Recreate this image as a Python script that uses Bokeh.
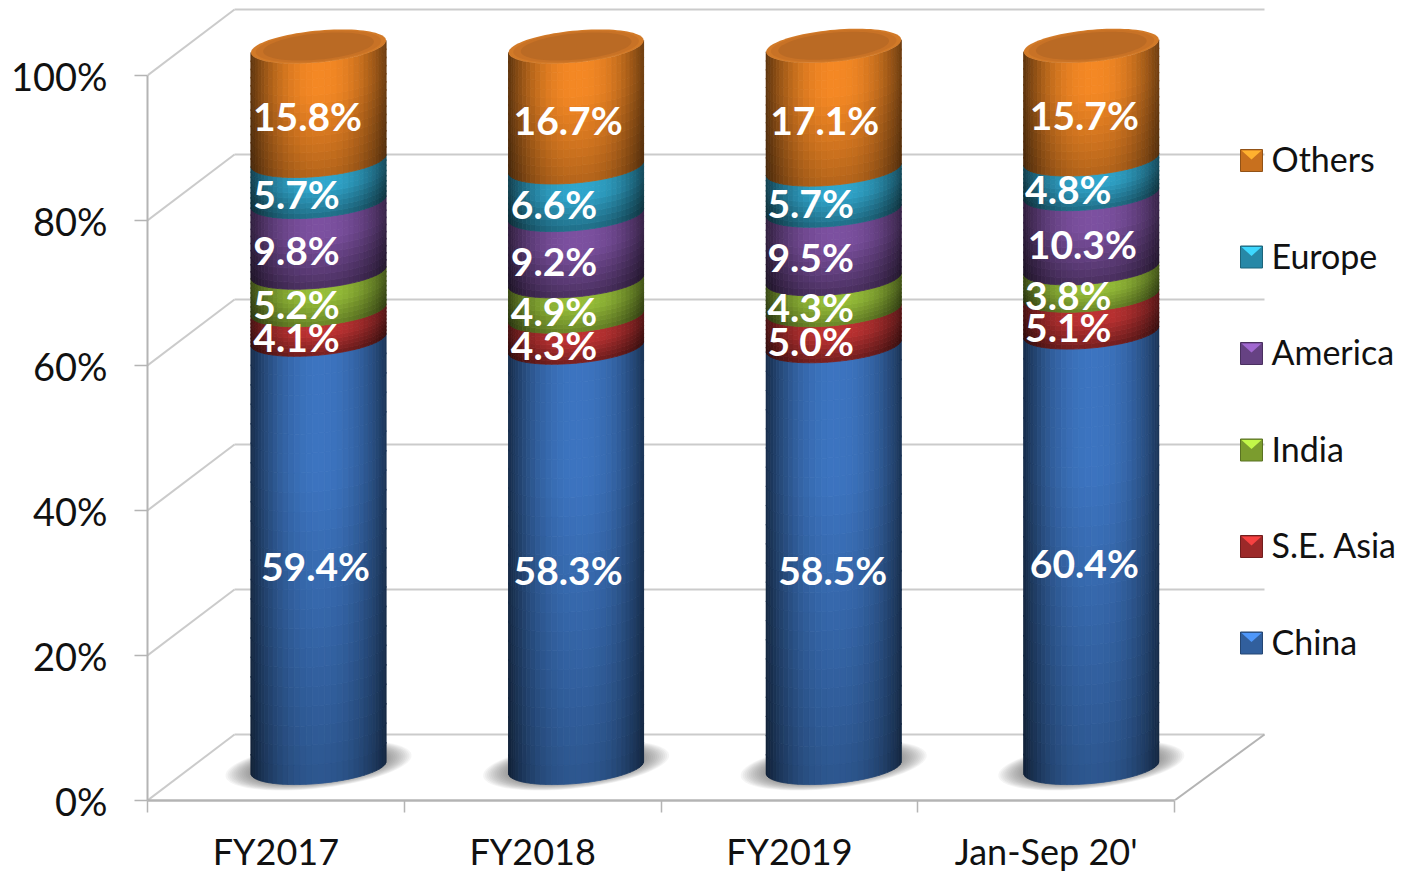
import numpy as np
from bokeh.plotting import figure
from bokeh.models import Range1d, FixedTicker, ColumnDataSource
from bokeh.core.properties import value
from bokeh.embed import file_html
from bokeh.resources import INLINE

# ---------- data ----------
categories = ["FY2017", "FY2018", "FY2019", "Jan-Sep 20'"]
series = ["China", "S.E. Asia", "India", "America", "Europe", "Others"]
china = [59.4, 58.3, 58.5, 60.4]
se_asia = [4.1, 4.3, 5.0, 5.1]
india = [5.2, 4.9, 4.3, 3.8]
america = [9.8, 9.2, 9.5, 10.3]
europe = [5.7, 6.6, 5.7, 4.8]
others = [15.8, 16.7, 17.1, 15.7]
y_ticks = [0, 20, 40, 60, 80, 100]

# ---------- styling ----------
FONT = "Lato"
GRID = "#cbcbcb"
AXIS = "#b4b4b4"
bright = [(60, 116, 192), (190, 50, 50), (150, 190, 56), (124, 80, 160), (48, 166, 204), (244, 136, 36)]
low_shade = [0.74, 0.62, 0.70, 0.60, 0.66, 0.74]
rows = [22, 8, 8, 10, 8, 14]
# horizontal nudge of each value label from the cylinder's axis, px (as placed in the source chart)
label_dx = [
    [-3, -22, -22, -22, -22, -11],
    [-8, -22, -22, -22, -22, -8],
    [-1, -23, -23, -23, -23, -9],
    [-7, -23, -23, -9, -23, -7],
]

# ---------- projection: px per axis unit, wall depth, cylinder shape ----------
PX_X = 256.75
PX_Y = 7.25
DEPTH_X = 87 / PX_X
DEPTH_Y = 66 / PX_Y
RIGHT_X = 90 / PX_X
CYL_PITCH = 257.6 / PX_X
CYL_START = 171 / PX_X
CYL_A = 67.5 / PX_X
CYL_B = 16 / PX_Y
CYL_TILT = 6 / PX_Y
CYL_BASE = 33 / PX_Y
CYL_SCALE = 721 / 725

X_MAX = (1402 - 147) / PX_X
Y_MAX = 800 / PX_Y

p = figure(width=1402, height=875, output_backend="svg", toolbar_location=None,
           x_range=Range1d(0, X_MAX), y_range=Range1d(0, Y_MAX),
           min_border_left=147, min_border_right=0, min_border_top=0, min_border_bottom=75,
           background_fill_color="white", border_fill_color="white", outline_line_color=None)
p.grid.visible = False

# axes
ya = p.yaxis[0]
ya.ticker = FixedTicker(ticks=y_ticks)
ya.major_label_overrides = {t: f"{t}%" for t in y_ticks}
ya.bounds = (0, 100)
ya.axis_line_color = AXIS
ya.axis_line_width = 2
ya.major_tick_line_color = AXIS
ya.major_tick_line_width = 1.5
ya.major_tick_out = 13
ya.major_tick_in = 0
ya.minor_tick_line_color = None
ya.major_label_standoff = 27
ya.major_label_text_font = FONT
ya.major_label_text_font_size = "38px"
ya.major_label_text_color = "#111111"

xa = p.xaxis[0]
centres = [i + 0.5 for i in range(len(categories))]
xa.ticker = FixedTicker(ticks=centres, minor_ticks=list(range(len(categories) + 1)))
xa.major_label_overrides = {c: n for c, n in zip(centres, categories)}
xa.bounds = (0, 4)
xa.axis_line_color = AXIS
xa.axis_line_width = 2.5
xa.major_tick_line_color = None
xa.major_tick_out = 0
xa.major_tick_in = 0
xa.minor_tick_line_color = AXIS
xa.minor_tick_line_width = 1.5
xa.minor_tick_out = 12
xa.minor_tick_in = 0
xa.major_label_standoff = 16
xa.major_label_text_font = FONT
xa.major_label_text_font_size = "36px"
xa.major_label_text_color = "#111111"

# walls
n = len(categories)
p.segment([DEPTH_X] * 6, [t + DEPTH_Y for t in y_ticks], [n + RIGHT_X] * 6, [t + DEPTH_Y for t in y_ticks],
          line_color=GRID, line_width=2)
p.segment([0] * 6, y_ticks, [DEPTH_X] * 6, [t + DEPTH_Y for t in y_ticks], line_color=GRID, line_width=2)
p.segment([n], [0], [n + RIGHT_X], [DEPTH_Y], line_color=AXIS, line_width=2)


def mix(c, f):
    return "#%02x%02x%02x" % tuple(int(round(min(255, max(0, k * f)))) for k in c)


stack = np.array([china, se_asia, india, america, europe, others], dtype=float)
cyl_x = [CYL_START + i * CYL_PITCH for i in range(n)]

# floor shadows
for i in range(n):
    cx = cyl_x[i]
    t = np.linspace(0, 2 * np.pi, 90)
    for s in np.linspace(1.0, 0.72, 14):
        p.patch(cx + s * 93 / PX_X * np.cos(t),
                CYL_BASE + 2 / PX_Y + s * (23 / PX_Y * np.sin(t) + 10 / PX_Y * np.cos(t)),
                fill_color="#505050", fill_alpha=0.06, line_color=None)

# cylinders
us = np.sin(np.linspace(-np.pi / 2, np.pi / 2, 35))
xs, ys, cols = [], [], []


def front(u, val):
    return CYL_BASE + val * CYL_SCALE + CYL_TILT * u - CYL_B * np.sqrt(max(0.0, 1 - u * u))


for i in range(n):
    cx = cyl_x[i]
    cum = 0.0
    for j in range(len(series)):
        v = stack[j][i]
        edges = np.linspace(cum, cum + v, rows[j] + 1)
        for r in range(rows[j]):
            frac = (r + 0.5) / rows[j]
            g = low_shade[j] + (1 - low_shade[j]) * min(1.0, frac / 0.72)
            for q in range(len(us) - 1):
                u0, u1 = us[q], us[q + 1]
                um = (u0 + u1) / 2 - 0.03
                e = 1 - 0.58 * abs(um) ** 2.2
                xs.append([cx + CYL_A * u0, cx + CYL_A * u1, cx + CYL_A * u1, cx + CYL_A * u0])
                ys.append([front(u0, edges[r]), front(u1, edges[r]), front(u1, edges[r + 1]), front(u0, edges[r + 1])])
                cols.append(mix(bright[j], g * e))
        cum += v

src = ColumnDataSource(dict(xs=xs, ys=ys, c=cols))
p.patches("xs", "ys", source=src, fill_color="c", line_color="c", line_width=0.8)

# cylinder caps
for i in range(n):
    cx = cyl_x[i]
    top = stack[:, i].sum()
    t = np.linspace(0, 2 * np.pi, 90)
    for s, col in zip([1.0, 0.93, 0.82], ["#d27a28", "#c87226", "#ba6a24"]):
        p.patch(cx + s * CYL_A * np.cos(t),
                CYL_BASE + top * CYL_SCALE + s * (CYL_B * np.sin(t) + CYL_TILT * np.cos(t)),
                fill_color=col, line_color=None)

# value labels
lx, ly, lt = [], [], []
for i in range(n):
    cum = 0.0
    for j in range(len(series)):
        v = stack[j][i]
        lx.append(cyl_x[i] + label_dx[i][j] / PX_X)
        ly.append(CYL_BASE + (cum + v / 2) * CYL_SCALE - 13 / PX_Y)
        lt.append(f"{v:.1f}%")
        cum += v
p.text(lx, ly, text=lt, text_color="white", text_font=value(FONT), text_font_style="bold",
       text_font_size="39px", text_align="center", text_baseline="middle")

# legend (top entry is the last series)
LEG_X = (1240 - 147) / PX_X
LEG_W = 22 / PX_X
LEG_H = 22 / PX_Y
LEG_TXT_X = (1271 - 147) / PX_X
LEG_TOP = (800 - 160) / PX_Y
LEG_STEP = 96.5 / PX_Y
LEG_TXT_DY = 2 / PX_Y
for k, j in enumerate(reversed(range(len(series)))):
    yc = LEG_TOP - k * LEG_STEP
    c = bright[j]
    p.patch([LEG_X, LEG_X + LEG_W, LEG_X + LEG_W, LEG_X],
            [yc - LEG_H / 2, yc - LEG_H / 2, yc + LEG_H / 2, yc + LEG_H / 2],
            fill_color=mix(c, 0.82), line_color=mix(c, 0.6), line_width=1)
    p.patch([LEG_X + 1 / PX_X, LEG_X + LEG_W - 1 / PX_X, LEG_X + LEG_W / 2],
            [yc + LEG_H / 2 - 1 / PX_Y, yc + LEG_H / 2 - 1 / PX_Y, yc + LEG_H / 2 - 10 / PX_Y],
            fill_color=mix(c, 1.3), line_color=None)
    p.text([LEG_TXT_X], [yc + LEG_TXT_DY], text=[series[j]], text_color="#111111", text_font=value(FONT),
           text_font_size="34px", text_align="left", text_baseline="middle")

open("out.html", "w").write(file_html(p, INLINE))
